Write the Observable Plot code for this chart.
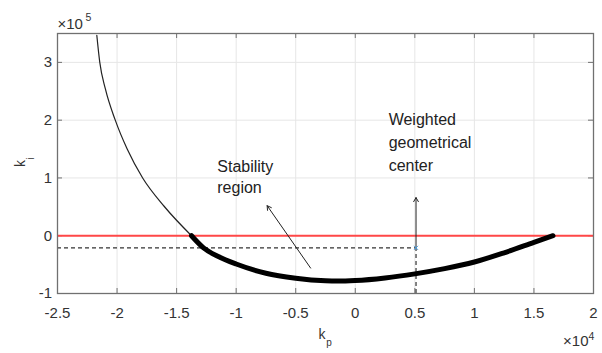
<!DOCTYPE html>
<html><head><meta charset="utf-8">
<script src="https://cdn.jsdelivr.net/npm/d3@7"></script>
<script src="https://cdn.jsdelivr.net/npm/@observablehq/plot@0.6"></script>
<style>
html,body{margin:0;padding:0;background:#fff;}
#chart svg{display:block;}
</style>
</head><body><div id="chart"></div>
<script>
// Boundary curve (thin part, ki > 0)
const kpThin = [-21700, -21450, -20980, -20150, -19150, -17850, -16050, -13750];
const kiThin = [347000, 300000, 254000, 200000, 150000, 100000, 51000, 0];
// Stability region boundary (thick part)
const kpStable = [-13750, -12740, -11500, -10000, -7500, -5000, -2500, -1500, 0, 2500, 5000, 7500, 10000, 12500, 15000, 16600];
const kiStable = [0, -21000, -36000, -49000, -65000, -73500, -78000, -78500, -77500, -73000, -66000, -57000, -45500, -29500, -11500, 0];
// Weighted geometrical center
const centerKp = 5100;
const centerKi = -21000;
// Axes
const xDomain = [-25000, 20000];
const yDomain = [-100000, 350000];
const xTicks = [-25000, -20000, -15000, -10000, -5000, 0, 5000, 10000, 15000, 20000];
const xTickLabels = ["-2.5", "-2", "-1.5", "-1", "-0.5", "0", "0.5", "1", "1.5", "2"];
const yTicks = [-100000, 0, 100000, 200000, 300000];
const yTickLabels = ["-1", "0", "1", "2", "3"];
// Annotations
const stabilityText = "Stability\nregion";
const stabilityTextPos = [-11585, 104000];
const stabilityArrow = {x1: -3750, y1: -56000, x2: -7400, y2: 52000};
const centerText = "Weighted\ngeometrical\ncenter";
const centerTextPos = [2800, 164000];
const centerArrowTip = 66000;

const thin = kpThin.map((x, i) => ({x, y: kiThin[i]}));
const stable = kpStable.map((x, i) => ({x, y: kiStable[i]}));

const W = 602, H = 353, mL = 57, mR = 9, mT = 33, mB = 60;
const plotH = H - mT - mB, plotW = W - mL - mR;
const FONT = "Liberation Sans, Arial, Helvetica, sans-serif";
const TXT = "#333333";

const chart = Plot.plot({
  width: W, height: H,
  marginLeft: mL, marginRight: mR, marginTop: mT, marginBottom: mB,
  style: {fontFamily: FONT, background: "#fff", overflow: "visible"},
  x: {domain: xDomain, label: null},
  y: {domain: yDomain, label: null},
  marks: [
    Plot.gridX(xTicks, {stroke: "#e6e6e6", strokeOpacity: 1, strokeWidth: 1}),
    Plot.gridY(yTicks, {stroke: "#e6e6e6", strokeOpacity: 1, strokeWidth: 1}),
    // inward ticks on all four sides
    Plot.tickX(xTicks, {x: d => d, insetTop: plotH - 5, stroke: "#707070"}),
    Plot.tickX(xTicks, {x: d => d, insetBottom: plotH - 5, stroke: "#707070"}),
    Plot.tickY(yTicks, {y: d => d, insetRight: plotW - 5, stroke: "#707070"}),
    Plot.tickY(yTicks, {y: d => d, insetLeft: plotW - 5, stroke: "#707070"}),
    Plot.ruleY([0], {stroke: "#ff4747", strokeWidth: 2}),
    Plot.ruleY([centerKi], {x1: xDomain[0], x2: centerKp, stroke: "#333", strokeWidth: 1.2, strokeDasharray: "4,3"}),
    Plot.ruleX([centerKp], {y1: yDomain[0], y2: centerKi, stroke: "#333", strokeWidth: 1.2, strokeDasharray: "4,3"}),
    Plot.line(thin, {x: "x", y: "y", curve: "monotone-x", stroke: "#222", strokeWidth: 1.2}),
    Plot.line(stable, {x: "x", y: "y", curve: "monotone-x", stroke: "#000", strokeWidth: 5, strokeLinecap: "round"}),
    Plot.arrow([stabilityArrow], {x1: "x1", y1: "y1", x2: "x2", y2: "y2", stroke: "#222", strokeWidth: 1, headLength: 7, bend: 0}),
    Plot.arrow([{x: centerKp, y1: centerKi, y2: centerArrowTip}], {x1: "x", x2: "x", y1: "y1", y2: "y2", stroke: "#222", strokeWidth: 1, headLength: 7, bend: 0}),
    Plot.dot([{x: centerKp, y: centerKi}], {x: "x", y: "y", symbol: "times", r: 2, stroke: "#4a9fe0", strokeWidth: 1}),
    Plot.text([stabilityText], {x: stabilityTextPos[0], y: stabilityTextPos[1], textAnchor: "start", lineAnchor: "middle", fontSize: 16, lineHeight: 1.29, fill: "#222"}),
    Plot.text([centerText], {x: centerTextPos[0], y: centerTextPos[1], textAnchor: "start", lineAnchor: "middle", fontSize: 16, lineHeight: 1.44, fill: "#222"}),
    Plot.frame({stroke: "#707070", strokeWidth: 1.3}),
    Plot.axisX(xTicks, {tickSize: 0, tickPadding: 14, fontSize: 15, fill: TXT, tickFormat: d => xTickLabels[xTicks.indexOf(d)]}),
    Plot.axisY(yTicks, {tickSize: 0, tickPadding: 5.5, fontSize: 15, fill: TXT, tickFormat: d => yTickLabels[yTicks.indexOf(d)]}),
    // exponent labels
    Plot.text(["\u00d710"], {frameAnchor: "bottom-right", textAnchor: "end", lineAnchor: "middle", dx: -5, dy: 47.5, fontSize: 15, fill: TXT}),
    Plot.text(["4"], {frameAnchor: "bottom-right", textAnchor: "start", lineAnchor: "middle", dx: -5, dy: 43, fontSize: 10.5, fill: TXT}),
    Plot.text(["\u00d710"], {frameAnchor: "top-left", textAnchor: "start", lineAnchor: "middle", dx: 0, dy: -9.5, fontSize: 15, fill: TXT}),
    Plot.text(["5"], {frameAnchor: "top-left", textAnchor: "start", lineAnchor: "middle", dx: 28, dy: -15.5, fontSize: 10.5, fill: TXT}),
    // axis labels
    Plot.text(["k"], {frameAnchor: "bottom", textAnchor: "middle", lineAnchor: "middle", dx: -3.5, dy: 41.5, fontSize: 14, fill: TXT}),
    Plot.text(["p"], {frameAnchor: "bottom", textAnchor: "middle", lineAnchor: "middle", dx: 3.5, dy: 48.8, fontSize: 10, fill: TXT}),
    Plot.text(["k"], {frameAnchor: "left", textAnchor: "middle", lineAnchor: "middle", rotate: -90, dx: -36.5, dy: 0, fontSize: 14, fill: TXT}),
    Plot.text(["i"], {frameAnchor: "left", textAnchor: "middle", lineAnchor: "middle", rotate: -90, dx: -27.2, dy: -5, fontSize: 10, fill: TXT})
  ]
});
document.getElementById("chart").appendChild(chart);
</script>
</body></html>
